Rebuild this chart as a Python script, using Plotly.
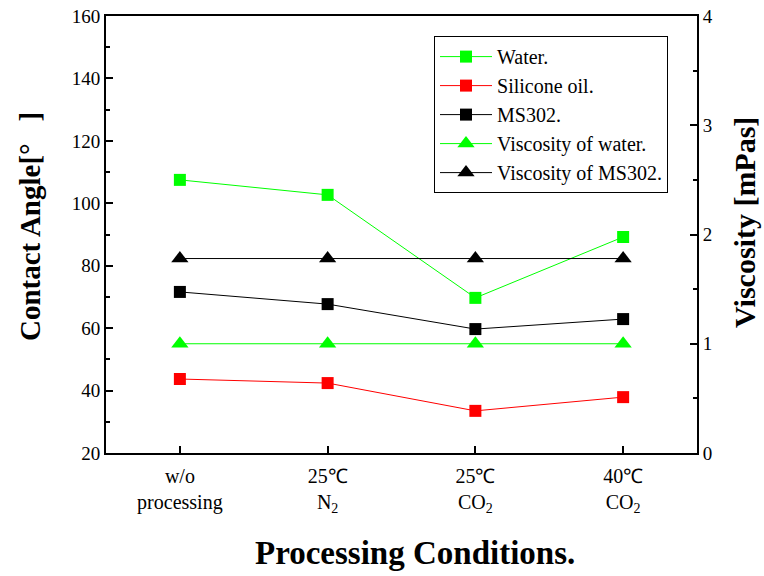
import plotly.graph_objects as go

categories = ["w/o<br>processing", "25℃<br>N<sub>2</sub>", "25℃<br>CO<sub>2</sub>", "40℃<br>CO<sub>2</sub>"]
water = [107.5, 102.7, 69.7, 89.2]
silicone_oil = [43.7, 42.4, 33.5, 37.9]
ms302 = [71.6, 67.7, 59.7, 62.9]
visc_water = [1.0, 1.0, 1.0, 1.0]
visc_ms302 = [1.78, 1.78, 1.78, 1.78]

xi = list(range(len(categories)))
FONT = "Times New Roman, Liberation Serif, serif"

fig = go.Figure()
sq = dict(symbol="square", size=12)
tri = dict(symbol="triangle-up", size=15)
fig.add_trace(go.Scatter(x=xi, y=water, name="Water.", mode="lines+markers",
                         line=dict(color="#00ff00", width=1), marker=dict(color="#00ff00", **sq)))
fig.add_trace(go.Scatter(x=xi, y=silicone_oil, name="Silicone oil.", mode="lines+markers",
                         line=dict(color="#ff0000", width=1), marker=dict(color="#ff0000", **sq)))
fig.add_trace(go.Scatter(x=xi, y=ms302, name="MS302.", mode="lines+markers",
                         line=dict(color="#000000", width=1), marker=dict(color="#000000", **sq)))
fig.add_trace(go.Scatter(x=xi, y=visc_water, name="Viscosity of water.", mode="lines+markers", yaxis="y2",
                         line=dict(color="#00ff00", width=1), marker=dict(color="#00ff00", **tri)))
fig.add_trace(go.Scatter(x=xi, y=visc_ms302, name="Viscosity of MS302.", mode="lines+markers", yaxis="y2",
                         line=dict(color="#000000", width=1), marker=dict(color="#000000", **tri)))

title_font = dict(family=FONT, color="black")
fig.update_layout(
    width=764, height=576,
    margin=dict(l=106, r=67, t=16, b=123),
    paper_bgcolor="white", plot_bgcolor="white",
    font=dict(family=FONT, size=19, color="black"),
    showlegend=True,
    legend=dict(x=0.555, y=0.954, xanchor="left", yanchor="top",
                bordercolor="black", borderwidth=1, bgcolor="white",
                font=dict(family=FONT, size=20), tracegroupgap=0, itemwidth=52),
    xaxis=dict(range=[-0.5, 3.5], tickmode="array", tickvals=xi, ticktext=categories,
               showline=True, linecolor="black", linewidth=2, mirror=True,
               ticks="inside", ticklen=7, tickwidth=1.5, tickcolor="black",
               showgrid=False, zeroline=False, automargin=False,
               tickfont=dict(family=FONT, size=20), ticklabelstandoff=4),
    yaxis=dict(range=[20, 160], tickvals=[20, 40, 60, 80, 100, 120, 140, 160],
               showline=True, linecolor="black", linewidth=2,
               ticks="inside", ticklen=7, tickwidth=1.5, tickcolor="black",
               minor=dict(dtick=10, ticks="inside", ticklen=4, tickwidth=1.5, tickcolor="black"),
               showgrid=False, zeroline=False, automargin=False,
               tickfont=dict(family=FONT, size=19)),
    yaxis2=dict(range=[0, 4], tickvals=[0, 1, 2, 3, 4], overlaying="y", side="right",
                showline=True, linecolor="black", linewidth=2,
                ticks="inside", ticklen=7, tickwidth=1.5, tickcolor="black",
                minor=dict(dtick=0.5, ticks="inside", ticklen=4, tickwidth=1.5, tickcolor="black"),
                showgrid=False, zeroline=False, automargin=False,
                tickfont=dict(family=FONT, size=19)),
    annotations=[
        dict(text="<b>Processing Conditions.</b>", xref="paper", yref="paper", x=0.5228, y=-0.2288,
             xanchor="center", yanchor="middle", showarrow=False, font=dict(size=33, **title_font)),
        dict(text="<b>Contact Angle[°\u00a0\u00a0\u00a0]</b>", xref="paper", yref="paper", x=-0.1286, y=0.5195,
             xanchor="center", yanchor="middle", textangle=-90, showarrow=False, font=dict(size=29, **title_font)),
        dict(text="<b>Viscosity [mPas]</b>", xref="paper", yref="paper", x=1.0795, y=0.5286,
             xanchor="center", yanchor="middle", textangle=-90, showarrow=False, font=dict(size=30, **title_font)),
    ],
)

fig.write_html("out.html", config={"displayModeBar": False},
               post_script="document.body.style.margin='0';")
